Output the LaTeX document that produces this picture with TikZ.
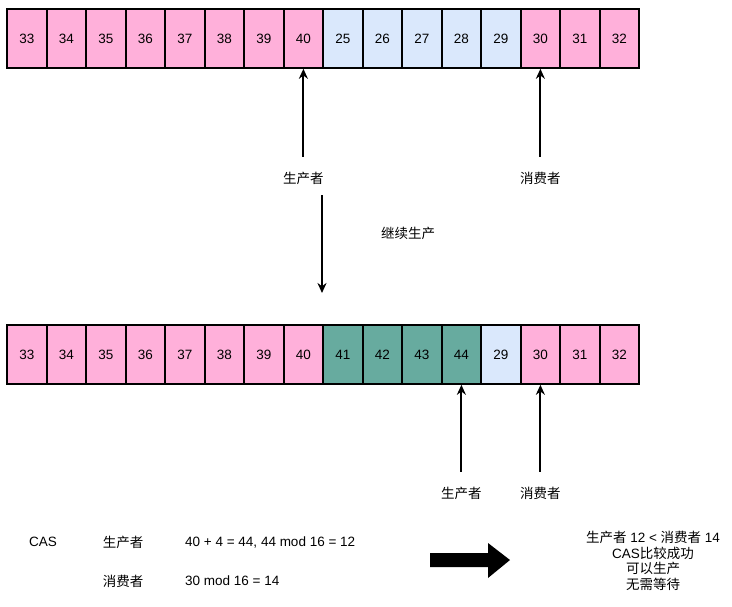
\documentclass[tikz,border=0pt]{standalone}
\usepackage{fontspec}
\setmainfont{Liberation Sans}
\newfontfamily\cjk{Noto Sans CJK SC}
\usetikzlibrary{arrows.meta}
\definecolor{pinkc}{HTML}{FFB0DA}
\definecolor{bluec}{HTML}{DAE8FC}
\definecolor{tealc}{HTML}{67AB9F}
\begin{document}
\begin{tikzpicture}[x=1pt,y=-1pt,
  cell/.style={draw=black,line width=1.8pt,minimum height=59pt,inner sep=0pt,anchor=north west,font=\fontsize{13.5}{16}\selectfont},
  lbl/.style={font=\fontsize{13.5}{16}\selectfont\cjk,inner sep=0pt},
  txt/.style={font=\fontsize{13.5}{16}\selectfont,inner sep=0pt},
  arr/.style={line width=2pt,-{Stealth[length=10pt,width=9pt]}}]
\useasboundingbox (0,0) rectangle (732,606);
% top row
\foreach \i/\n/\c in {1/33/pinkc,2/34/pinkc,3/35/pinkc,4/36/pinkc,5/37/pinkc,6/38/pinkc,7/39/pinkc,8/40/pinkc,9/25/bluec,10/26/bluec,11/27/bluec,12/28/bluec,13/29/bluec,14/30/pinkc,15/31/pinkc,16/32/pinkc}{
  \pgfmathsetmacro\xa{round(6+(\i-1)*39.5)}
  \pgfmathsetmacro\xb{round(6+\i*39.5)}
  \pgfmathsetmacro\ww{\xb-\xa}
  \node[cell,fill=\c,minimum width=\ww pt] (t\i) at (\xa,8) {\n};
}
% bottom row
\foreach \i/\n/\c in {1/33/pinkc,2/34/pinkc,3/35/pinkc,4/36/pinkc,5/37/pinkc,6/38/pinkc,7/39/pinkc,8/40/pinkc,9/41/tealc,10/42/tealc,11/43/tealc,12/44/tealc,13/29/bluec,14/30/pinkc,15/31/pinkc,16/32/pinkc}{
  \pgfmathsetmacro\xa{round(6+(\i-1)*39.5)}
  \pgfmathsetmacro\xb{round(6+\i*39.5)}
  \pgfmathsetmacro\ww{\xb-\xa}
  \node[cell,fill=\c,minimum width=\ww pt] (b\i) at (\xa,324) {\n};
}
% top pointers
\path (t8.south) ++(0,88) coordinate (tpS);
\path (t14.south) ++(0,88) coordinate (tcS);
\node[lbl] (tp) at ([yshift=-22pt]tpS) {生产者};
\node[lbl] (tc) at ([yshift=-22pt]tcS) {消费者};
\draw[arr] (tpS) -- (t8.south);
\draw[arr] (tcS) -- (t14.south);
% continue arrow
\coordinate (dS) at (322,195);
\coordinate (dE) at (322,293);
\draw[arr] (dS) -- (dE);
\node[lbl] (cont) at (408,233) {继续生产};
% bottom pointers
\path (b12.south) ++(0,87) coordinate (bpS);
\path (b14.south) ++(0,87) coordinate (bcS);
\node[lbl] (bp) at ([yshift=-22pt]bpS) {生产者};
\node[lbl] (bc) at ([yshift=-22pt]bcS) {消费者};
\draw[arr] (bpS) -- (b12.south);
\draw[arr] (bcS) -- (b14.south);
% bottom text
\node[txt] (cas) at (43,542) {CAS};
\node[lbl] (p2) at (123,542) {生产者};
\node[txt,anchor=west] (pf) at (185,542) {40 + 4 = 44, 44 mod 16 = 12};
\node[lbl] (c2) at (123,581) {消费者};
\node[txt,anchor=west] (cf) at (185,581) {30 mod 16 = 14};
% big arrow
\fill[black] (430,553) -- (488,553) -- (488,543) -- (510,560) -- (488,578) -- (488,567) -- (430,567) -- cycle;
% result text
\node[txt,align=center,font=\fontsize{13.5}{15.5}\selectfont] (res) at (653,561) {{\cjk 生产者} 12 < {\cjk 消费者} 14\\CAS{\cjk 比较成功}\\{\cjk 可以生产}\\{\cjk 无需等待}};
\end{tikzpicture}
\end{document}
